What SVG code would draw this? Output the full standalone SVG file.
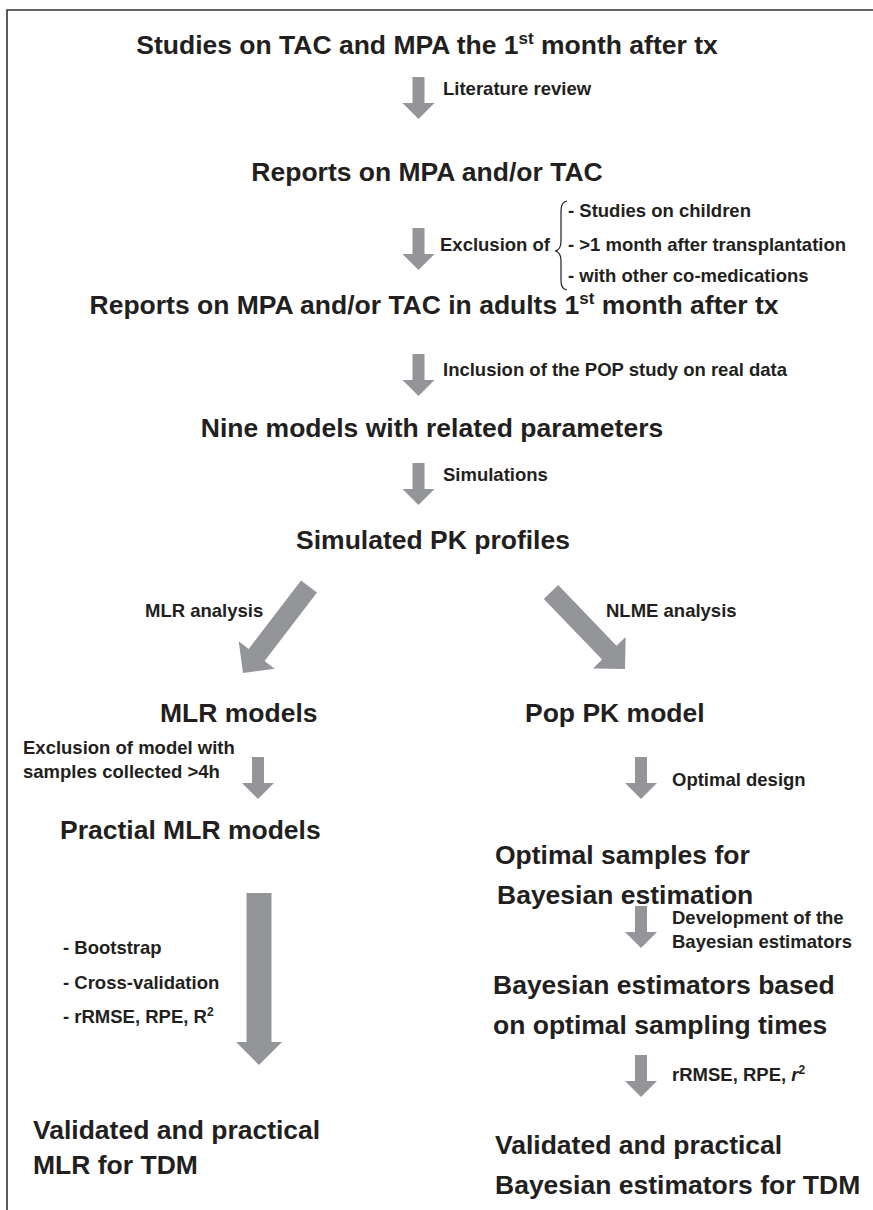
<svg xmlns="http://www.w3.org/2000/svg" width="873" height="1210" viewBox="0 0 873 1210">
<style>
.t{font-family:"Liberation Sans",Arial,sans-serif;font-weight:bold;font-size:26.5px;fill:#231f20}
.l{font-family:"Liberation Sans",Arial,sans-serif;font-weight:bold;font-size:18.5px;fill:#231f20}
.m{text-anchor:middle}
.a{fill:#939598}
</style>
<defs>
<path id="va" class="a" d="M-6,0 H6 V26 H16 L0,42 L-16,26 H-6 Z"/>
</defs>
<rect width="873" height="1210" fill="#ffffff"/>
<path d="M7,1210 V10 H873" fill="none" stroke="#333333" stroke-width="1.6"/>

<g id="connectors">
<use href="#va" x="418.5" y="77"/>
<use href="#va" x="418.5" y="228"/>
<use href="#va" x="418.5" y="354"/>
<use href="#va" x="418.5" y="463"/>
<polygon class="a" points="317,592.6 264.6,661.1 274.7,668.7 243,673 238.7,641.3 248.7,648.9 301,580.4"/>
<polygon class="a" points="558.2,585.1 616.5,645.8 625.6,637 625,669 593,668.4 602.1,659.6 543.8,598.9"/>
<use href="#va" x="258" y="757"/>
<use href="#va" x="641" y="757"/>
<path class="a" d="M246.5,893 H271.5 V1042 H282 L259,1065 L236,1042 H246.5 Z"/>
<use href="#va" x="641" y="906"/>
<use href="#va" x="641" y="1055"/>
</g>

<g id="edge-labels">
<text class="l" x="443" y="95">Literature review</text>
<text class="l" x="440" y="251">Exclusion of</text>
<path d="M567,201 Q561,202 561,211 L561,241 Q561,250 555,251 Q561,252 561,261 L561,281 Q561,289 567,290" fill="none" stroke="#231f20" stroke-width="1.2"/>
<text class="l" x="568" y="217">- Studies on children</text>
<text class="l" x="568" y="251">- &gt;1 month after transplantation</text>
<text class="l" x="568" y="282">- with other co-medications</text>
<text class="l" x="443" y="376">Inclusion of the POP study on real data</text>
<text class="l" x="443" y="481">Simulations</text>
<text class="l" x="145" y="617">MLR analysis</text>
<text class="l" x="606" y="617">NLME analysis</text>
<text class="l" x="23" y="754">Exclusion of model with</text>
<text class="l" x="23" y="778">samples collected &gt;4h</text>
<text class="l" x="672" y="786">Optimal design</text>
<text class="l" x="63" y="954">- Bootstrap</text>
<text class="l" x="63" y="989">- Cross-validation</text>
<text class="l" x="63" y="1023">- rRMSE, RPE, R<tspan dy="-7" font-size="12">2</tspan></text>
<text class="l" x="672" y="924">Development of the</text>
<text class="l" x="672" y="948">Bayesian estimators</text>
<text class="l" x="672" y="1081">rRMSE, RPE, <tspan font-style="italic">r</tspan><tspan dy="-7" font-size="12">2</tspan></text>
</g>

<g id="n1"><text class="t m" x="427" y="54">Studies on TAC and MPA the 1<tspan dy="-10" font-size="17">st</tspan><tspan dy="10"> month after tx</tspan></text></g>
<g id="n2"><text class="t m" x="427" y="181">Reports on MPA and/or TAC</text></g>
<g id="n3"><text class="t m" x="434" y="314">Reports on MPA and/or TAC in adults 1<tspan dy="-10" font-size="17">st</tspan><tspan dy="10"> month after tx</tspan></text></g>
<g id="n4"><text class="t m" x="432" y="437">Nine models with related parameters</text></g>
<g id="n5"><text class="t m" x="433" y="549">Simulated PK profiles</text></g>
<g id="n6"><text class="t" x="160" y="722">MLR models</text></g>
<g id="n7"><text class="t" x="525" y="722">Pop PK model</text></g>
<g id="n8"><text class="t" x="60" y="839">Practial MLR models</text></g>
<g id="n9"><text class="t" x="495" y="864">Optimal samples for</text><text class="t" x="497" y="904">Bayesian estimation</text></g>
<g id="n10"><text class="t" x="493" y="994">Bayesian estimators based</text><text class="t" x="493" y="1034">on optimal sampling times</text></g>
<g id="n11"><text class="t" x="33" y="1139">Validated and practical</text><text class="t" x="33" y="1174">MLR for TDM</text></g>
<g id="n12"><text class="t" x="495" y="1154">Validated and practical</text><text class="t" x="495" y="1194">Bayesian estimators for TDM</text></g>
</svg>
